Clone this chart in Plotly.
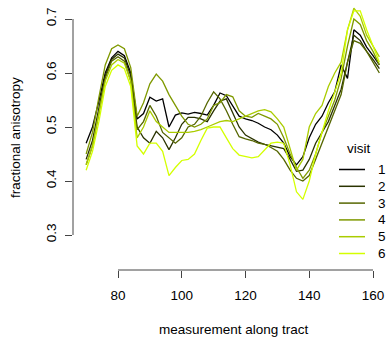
import plotly.graph_objects as go

# ---- data ----
x_vals = [70, 72, 74, 76, 78, 80, 82, 84, 86, 88, 90, 92, 94, 96, 98, 100, 102, 104, 106, 108,
          110, 112, 114, 116, 118, 120, 122, 124, 126, 128, 130, 132, 134, 136, 138, 140, 142,
          144, 146, 148, 150, 152, 154, 156, 158, 160, 162]

visit1 = [0.470, 0.500, 0.548, 0.600, 0.628, 0.640, 0.632, 0.600, 0.515, 0.525, 0.555, 0.548,
          0.552, 0.500, 0.522, 0.526, 0.524, 0.527, 0.525, 0.522, 0.540, 0.563, 0.558, 0.540,
          0.520, 0.515, 0.512, 0.507, 0.500, 0.495, 0.485, 0.470, 0.445, 0.430, 0.445, 0.480,
          0.505, 0.520, 0.545, 0.565, 0.615, 0.590, 0.680, 0.670, 0.648, 0.632, 0.615]
visit2 = [0.440, 0.475, 0.535, 0.595, 0.625, 0.635, 0.628, 0.595, 0.500, 0.480, 0.470, 0.492,
          0.480, 0.458, 0.480, 0.505, 0.518, 0.518, 0.515, 0.510, 0.530, 0.548, 0.552, 0.525,
          0.500, 0.485, 0.478, 0.472, 0.468, 0.465, 0.462, 0.460, 0.440, 0.418, 0.420, 0.440,
          0.470, 0.490, 0.510, 0.540, 0.570, 0.620, 0.670, 0.660, 0.640, 0.625, 0.608]
visit3 = [0.430, 0.465, 0.525, 0.590, 0.622, 0.630, 0.622, 0.585, 0.495, 0.510, 0.540, 0.520,
          0.490, 0.480, 0.470, 0.480, 0.500, 0.505, 0.520, 0.545, 0.565, 0.552, 0.530, 0.505,
          0.482, 0.478, 0.475, 0.470, 0.468, 0.462, 0.455, 0.440, 0.420, 0.405, 0.400, 0.410,
          0.440, 0.470, 0.500, 0.530, 0.560, 0.620, 0.660, 0.655, 0.640, 0.620, 0.600]
visit4 = [0.450, 0.490, 0.555, 0.615, 0.645, 0.652, 0.645, 0.610, 0.520, 0.545, 0.580, 0.598,
          0.585, 0.560, 0.540, 0.520, 0.505, 0.500, 0.505, 0.515, 0.540, 0.545, 0.560, 0.556,
          0.530, 0.520, 0.518, 0.525, 0.520, 0.515, 0.505, 0.480, 0.450, 0.425, 0.405, 0.420,
          0.450, 0.490, 0.520, 0.550, 0.590, 0.650, 0.700, 0.690, 0.660, 0.640, 0.615]
visit5 = [0.430, 0.465, 0.525, 0.585, 0.615, 0.625, 0.618, 0.585, 0.480, 0.500, 0.530, 0.510,
          0.500, 0.490, 0.490, 0.490, 0.490, 0.492, 0.495, 0.500, 0.505, 0.510, 0.512, 0.510,
          0.515, 0.520, 0.525, 0.530, 0.532, 0.528, 0.515, 0.500, 0.460, 0.420, 0.440, 0.500,
          0.525, 0.540, 0.575, 0.600, 0.620, 0.680, 0.720, 0.705, 0.670, 0.650, 0.630]
visit6 = [0.420, 0.455, 0.510, 0.575, 0.605, 0.615, 0.608, 0.575, 0.465, 0.450, 0.470, 0.470,
          0.455, 0.410, 0.425, 0.438, 0.440, 0.450, 0.475, 0.498, 0.500, 0.500, 0.480, 0.460,
          0.448, 0.445, 0.443, 0.445, 0.458, 0.470, 0.472, 0.470, 0.430, 0.380, 0.366, 0.400,
          0.450, 0.490, 0.530, 0.565, 0.600, 0.680, 0.715, 0.715, 0.680, 0.650, 0.620]

series_names = ["1", "2", "3", "4", "5", "6"]
series_values = [visit1, visit2, visit3, visit4, visit5, visit6]
colors = ["#000000", "#2a3300", "#556600", "#7f9900", "#aacc00", "#d4ff00"]

x_ticks = [80, 100, 120, 140, 160]
y_ticks = [0.3, 0.4, 0.5, 0.6, 0.7]
x_title = "measurement along tract"
y_title = "fractional anisotropy"
legend_title = "visit"

# ---- layout geometry (pixels) ----
W, H = 388, 339
ML, MR, MT, MB = 73, 0, 0, 69
PW, PH = W - ML - MR, H - MT - MB

def px_x(p):
    return (p - ML) / PW

def px_y(p):
    return (H - MB - p) / PH

FONT = "Liberation Sans, Arial, sans-serif"

fig = go.Figure()
for name, vals, col in zip(series_names, series_values, colors):
    fig.add_trace(go.Scatter(x=x_vals, y=vals, mode="lines", name=name,
                             line=dict(color=col, width=1.3), showlegend=False))

shapes = []
# R-style axis lines spanning first to last tick
shapes.append(dict(type="line", xref="x", yref="paper", x0=x_ticks[0], x1=x_ticks[-1],
                   y0=0, y1=0, line=dict(color="#444444", width=1)))
shapes.append(dict(type="line", xref="paper", yref="y", x0=0, x1=0,
                   y0=y_ticks[0], y1=y_ticks[-1], line=dict(color="#444444", width=1)))

annotations = []
# legend (manual, R style)
leg_x0, leg_x1, leg_tx = 339, 365, 376
leg_y0, leg_dy = 169.5, 16.8
annotations.append(dict(text=legend_title, xref="paper", yref="paper", x=px_x(358), y=px_y(148),
                        showarrow=False, xanchor="center", yanchor="middle",
                        font=dict(family=FONT, size=13.5, color="black")))
for i, (name, col) in enumerate(zip(series_names, colors)):
    yy = px_y(leg_y0 + i * leg_dy)
    shapes.append(dict(type="line", xref="paper", yref="paper", x0=px_x(leg_x0), x1=px_x(leg_x1),
                       y0=yy, y1=yy, line=dict(color=col, width=1.5)))
    annotations.append(dict(text=name, xref="paper", yref="paper", x=px_x(leg_tx), y=yy,
                            showarrow=False, xanchor="left", yanchor="middle",
                            font=dict(family=FONT, size=13.5, color="black")))

annotations.append(dict(text=x_title, xref="paper", yref="paper", x=px_x(234), y=px_y(329),
                        showarrow=False, xanchor="center", yanchor="middle",
                        font=dict(family=FONT, size=13.5, color="black")))
annotations.append(dict(text=y_title, xref="paper", yref="paper", x=px_x(15), y=px_y(137),
                        showarrow=False, xanchor="center", yanchor="middle", textangle=-90,
                        font=dict(family=FONT, size=13.5, color="black")))

x_lo = x_ticks[0] - (118 - ML) / 3.1875
x_hi = x_lo + PW / 3.1875
y_hi = y_ticks[-1] + 19 / 540
y_lo = y_hi - PH / 540

fig.update_layout(
    width=W, height=H,
    margin=dict(l=ML, r=MR, t=MT, b=MB),
    paper_bgcolor="white", plot_bgcolor="white",
    showlegend=False,
    shapes=shapes, annotations=annotations,
    font=dict(family=FONT, size=13.5, color="black"),
    xaxis=dict(range=[x_lo, x_hi], tickvals=x_ticks, ticktext=[str(v) for v in x_ticks],
               showgrid=False, zeroline=False, showline=False,
               ticks="outside", ticklen=7, tickwidth=1, tickcolor="#444444",
               ticklabelstandoff=6, tickfont=dict(family=FONT, size=13.5, color="black")),
    yaxis=dict(range=[y_lo, y_hi], tickvals=y_ticks, ticktext=[f"{v:.1f}" for v in y_ticks],
               showgrid=False, zeroline=False, showline=False,
               ticks="outside", ticklen=7, tickwidth=1, tickcolor="#444444",
               tickangle=-90, ticklabelstandoff=4,
               tickfont=dict(family=FONT, size=13.5, color="black")),
)

fig.write_html("out.html")
